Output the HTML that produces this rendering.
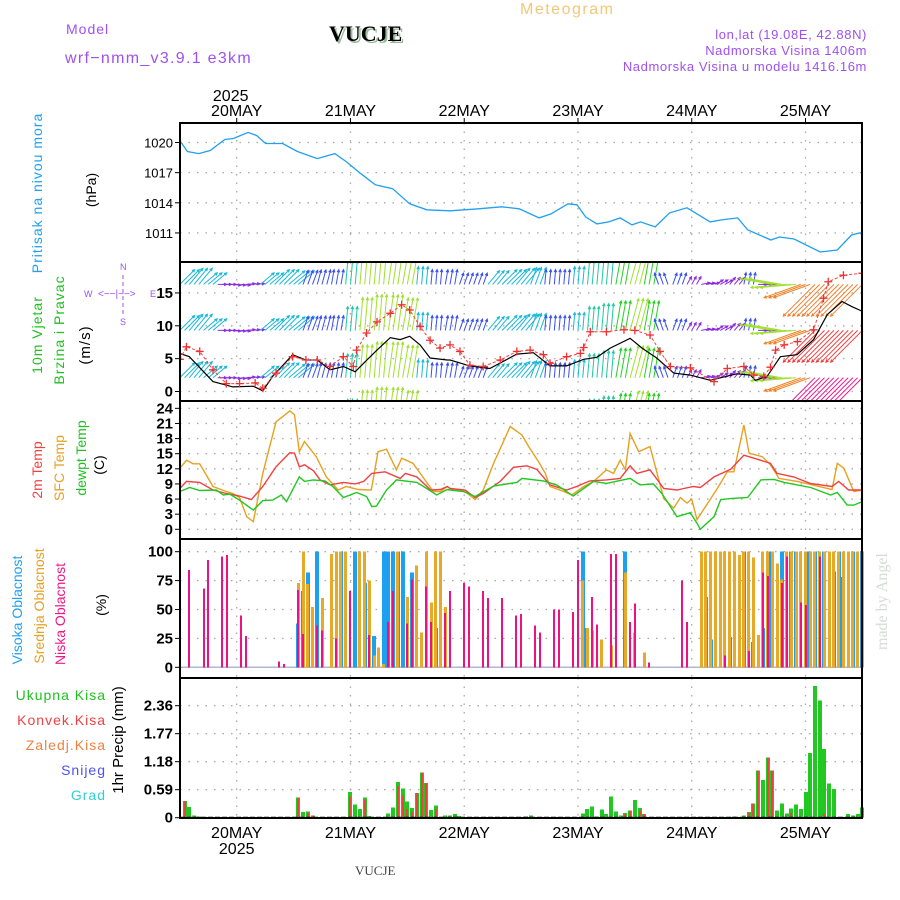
<!DOCTYPE html>
<html><head><meta charset="utf-8"><style>
html,body{margin:0;padding:0;background:#fff;}
svg{display:block;font-family:"Liberation Sans",sans-serif;}
</style></head><body>
<svg id="chart" width="900" height="900" viewBox="0 0 900 900">
<text x="520" y="14" font-size="16" fill="#f0c878" letter-spacing="1.5">Meteogram</text>
<text x="66" y="34" font-size="14" fill="#a050f0" letter-spacing="1">Model</text>
<text x="331" y="43" font-size="22" font-weight="bold" font-family="Liberation Serif,serif" fill="#9ab89a">VUCJE</text>
<text x="329" y="41" font-size="22" font-weight="bold" font-family="Liberation Serif,serif" fill="#000">VUCJE</text>
<text x="65" y="63" font-size="16" fill="#a050f0" letter-spacing="1.3">wrf−nmm_v3.9.1  e3km</text>
<text x="867" y="39" font-size="13" fill="#a050f0" text-anchor="end" letter-spacing="0.6">lon,lat (19.08E, 42.88N)</text>
<text x="867" y="55" font-size="13" fill="#a050f0" text-anchor="end" letter-spacing="0.6">Nadmorska Visina 1406m</text>
<text x="867" y="71" font-size="13" fill="#a050f0" text-anchor="end" letter-spacing="0.6">Nadmorska Visina u modelu 1416.16m</text>
<text x="355" y="875" font-size="13" font-family="Liberation Serif,serif" fill="#444">VUCJE</text>
<text transform="translate(887,650) rotate(-90)" font-size="16" font-family="Liberation Serif,serif" fill="#d4dcd4">made by Angel</text>

<text transform="translate(42,193) rotate(-90)" font-size="14" fill="#20a0f0" text-anchor="middle" letter-spacing="1">Pritisak na nivou mora</text>
<text transform="translate(96,190) rotate(-90)" font-size="14" fill="#000" text-anchor="middle">(hPa)</text>
<text transform="translate(42,335) rotate(-90)" font-size="14" fill="#20c020" text-anchor="middle" letter-spacing="1">10m Vjetar</text>
<text transform="translate(64,330) rotate(-90)" font-size="14" fill="#20c020" text-anchor="middle" letter-spacing="1">Brzina i Pravac</text>
<text transform="translate(90,345) rotate(-90)" font-size="15" fill="#000" text-anchor="middle" letter-spacing="1">(m/s)</text>
<g fill="#a050f0" font-size="9">
<text x="120" y="270">N</text><text x="120" y="325">S</text><text x="84" y="297">W</text><text x="150" y="297">E</text>
<text x="98" y="297" font-size="10">&lt;−−|−−&gt;</text>
<line x1="123" y1="275" x2="123" y2="315" stroke="#a050f0" stroke-dasharray="4,3"/>
</g>
<text transform="translate(42,470) rotate(-90)" font-size="14" fill="#f04040" text-anchor="middle">2m Temp</text>
<text transform="translate(64,468) rotate(-90)" font-size="14" fill="#e8a020" text-anchor="middle">SFC Temp</text>
<text transform="translate(86,458) rotate(-90)" font-size="14" fill="#20c020" text-anchor="middle">dewpt Temp</text>
<text transform="translate(104,465) rotate(-90)" font-size="14" fill="#000" text-anchor="middle">(C)</text>
<text transform="translate(22,610) rotate(-90)" font-size="14" fill="#20a0f0" text-anchor="middle">Visoka Oblacnost</text>
<text transform="translate(44,606) rotate(-90)" font-size="14" fill="#e8a020" text-anchor="middle">Srednja Oblacnost</text>
<text transform="translate(65,614) rotate(-90)" font-size="14" fill="#f01888" text-anchor="middle">Niska Oblacnost</text>
<text transform="translate(106,605) rotate(-90)" font-size="14" fill="#000" text-anchor="middle">(%)</text>
<g font-size="14" text-anchor="end" letter-spacing="1">
<text x="106" y="700" fill="#20c020">Ukupna  Kisa</text>
<text x="106" y="725" fill="#f04040">Konvek.Kisa</text>
<text x="106" y="750" fill="#f08040">Zaledj.Kisa</text>
<text x="106" y="775" fill="#5050f0">Snijeg</text>
<text x="106" y="800" fill="#30d0d0">Grad</text>
</g>
<text transform="translate(123,740) rotate(-90)" font-size="15" fill="#000" text-anchor="middle">1hr Precip (mm)</text>
<defs>
<clipPath id="windclip"><rect x="180" y="262" width="682" height="139"/></clipPath>
<clipPath id="presclip"><rect x="180" y="123" width="682" height="139"/></clipPath>
</defs>
<g id="layer"></g>
</svg>
<script>
// ---- data ----
const dayLabels = ["20MAY","21MAY","22MAY","23MAY","24MAY","25MAY"];
const dayHours = [0,24,48,72,96,120];
const presHours = [-12,-10.4,-8,-5.6,-2.5,-0.7,2.4,4.2,6.1,9.7,12.8,17,20.7,23.1,26.2,29.2,32.9,36.5,40.1,45,51,55.9,59.6,63.8,66.3,69.9,71.8,73.6,76,78.5,80.9,83.4,85.2,88.3,91.3,95,99.9,102.3,105.7,107.8,112.7,114.5,117.6,123.1,126.7,129.7,131.5,132.8];
const presVals = [1020.2,1019.1,1018.9,1019.2,1020.3,1020.4,1021.0,1020.7,1019.9,1019.9,1019.1,1018.4,1018.9,1018.1,1016.9,1015.8,1015.4,1013.9,1013.3,1013.2,1013.4,1013.6,1013.4,1012.5,1012.9,1013.9,1013.8,1012.6,1011.9,1012.1,1012.5,1011.8,1012.1,1011.6,1013.0,1013.5,1012.1,1012.3,1012.5,1011.3,1010.3,1010.6,1010.4,1009.1,1009.3,1010.8,1011.0,1010.4];
const presTicks = [1020,1017,1014,1011];

const t2Hours = [-12,-10.6,-7.8,-5,-2.2,0.6,3.1,5.5,8.3,11.2,12.2,13.2,14.3,16.2,17.6,19.7,22.5,25,26.8,28.5,31.3,34.5,35.6,38,40.9,43,44.4,45,48.2,50.3,52,55.6,58.4,61.2,63.3,66.1,69.6,71.7,74.5,78,80.9,83,84.4,87.2,90.1,92.9,94.3,96.4,97.8,100.7,104.2,107,109.8,112.6,114,117.5,121,125.6,127,129.1,132];
const t2Vals = [8.1,9.5,9.3,7.8,7.1,6.6,5.9,8.5,12.4,15.2,15.1,12.4,12.8,11.6,9.8,8.8,9.3,9.0,9.5,11.1,11.4,10.1,11.1,10.4,7.8,7.9,8.5,8.1,7.8,6.3,7.1,9.5,12.3,12.6,11.9,8.8,7.8,8.5,9.6,9.8,10.1,12.6,11.1,11.8,8.1,7.8,8.1,8.5,8.3,10.4,11.9,14.7,13.9,13.1,11.1,10.4,9.1,8.5,9.5,7.8,7.8];
const sfcHours = [-12,-10.6,-9.2,-7.8,-5,-2.2,-0.8,0.6,2.1,3.5,5.5,8.3,11.2,12.2,13.2,14.3,16.8,18.9,21.4,23.1,25.6,28.4,29.8,31.6,33.7,34.8,37.2,39.7,41.5,43,44.4,45,48.2,50.3,52,54.2,57.7,60.2,61.6,63.7,65.1,66.1,69,70.7,73.2,75.3,78,79.5,80.9,82,83,84.8,87.2,90.1,92.2,93.6,95,96,97.1,101.4,103.5,104.9,107,108.1,110.9,112.6,114.4,118.3,125.6,126.7,128.1,130.2,132];
const sfcVals = [12.1,13.7,13.0,13.0,8.5,7.5,7.1,6.3,2.5,1.5,11.1,21.3,23.5,22.7,15.4,17.4,14.4,10.4,7.8,8.5,7.9,7.8,15.4,15.9,11.8,14.1,13.1,9.8,7.5,7.5,8.5,8.1,7.5,5.9,7.8,13.1,20.4,18.7,16.4,13.4,11.1,8.5,7.5,6.8,8.5,9.5,11.8,11.1,13.7,11.8,19.0,15.4,16.4,6.1,4.2,6.3,5.2,6.0,1.9,8.1,11.4,11.4,20.7,15.1,14.4,12.8,10.1,9.5,7.9,13.1,12.1,7.5,7.8];
const dewHours = [-12,-9.9,-7.8,-4.3,-2.8,-1.5,0.6,3.5,5.5,7.6,9.4,10.5,13.2,14.3,16.1,18.6,20.3,22.5,25.3,27.4,28.5,29.5,31.6,33.7,38,39.4,42.2,44.4,45,47.8,50.3,54.2,59.1,60.2,64.7,67.5,71,75.3,78,83,85.1,87.9,89.7,92.9,95.7,97.1,97.8,100.7,102.1,104.2,107.8,110.6,113.4,115.5,121.1,125.3,126.7,128.8,130.2,132];
const dewVals = [7.5,8.3,7.7,7.8,6.8,7.0,5.8,3.8,5.7,5.8,6.8,5.5,10.4,9.5,9.8,9.6,8.5,6.3,7.3,6.5,4.5,4.6,7.8,9.8,9.3,8.5,6.8,7.9,7.8,7.5,6.5,8.6,9.3,10.1,9.6,8.8,6.6,9.5,9.1,10.1,8.8,9.0,7.1,2.5,3.3,1.2,0,2.5,5.9,6.1,6.3,9.8,9.9,9.3,8.3,6.8,7.3,4.8,4.8,5.5];
const tempTicks = [0,3,6,9,12,15,18,21,24];

const spdHours = [-12,-10,-5,-0.8,3.5,5.5,7.6,11.8,14.6,17,19.7,22.5,25,26.8,29.6,32.4,34.5,36.5,38.7,40.8,44.4,45,49.2,53.4,59.1,62.6,66.1,69.6,73.2,76,78.8,83,85.5,88.6,92.2,95.7,99.9,105.5,108.4,109.4,111.9,114.7,118.2,121.7,124.6,127.7,129.8,132];
const spdVals = [5.8,5.3,1.5,0.7,0.8,0.1,2.3,5.6,4.8,4.8,3.3,3.8,3.0,4.3,6.3,8.2,7.9,8.4,7.1,5.1,4.8,4.8,3.9,3.5,5.7,5.9,3.9,3.9,4.9,5.2,6.6,8.1,6.6,5.1,2.8,2.5,1.7,2.7,2.5,1.7,2.3,5.3,5.6,7.9,11.7,13.7,12.9,12.2];
const gustHours = [-12,-10.6,-7.8,-5,-2.2,0.6,3.9,5.5,8.3,11.8,14.6,17,19.7,22.5,24.6,25.3,27.4,29.6,32.4,34.8,36.5,38.7,40.8,42.9,45,47.1,49.2,52,55.6,59.1,61.9,64.7,66.1,69.6,72.5,73.2,74.6,78,81.7,84,87.2,89.3,91.5,95.7,100.7,103.5,107,109.1,111.2,112.6,113.7,115.5,118.3,121.7,123.8,124.8,128,132];
const gustVals = [4.9,6.8,6.1,3.3,1.2,1.2,1.3,0.5,2.8,5.3,4.8,4.8,3.8,5.3,3.8,6.3,8.9,10.6,11.9,13.2,12.4,9.9,7.8,6.6,7.1,6.1,4.0,3.8,4.8,6.1,6.3,5.6,4.3,5.3,5.8,6.7,9.1,9.1,9.4,9.3,8.6,6.1,3.8,3.6,1.5,3.5,3.8,2.5,2.3,3.7,6.3,7.1,7.6,9.4,14.2,16.7,17.7,18.0];
const windTicks = [0,5,10,15];
const arrowHours = [-12,-9,-6,-3,0,3,6,9,12,15,18,21,24,27,30,33,36,39,42,45,48,51,54,57,60,63,66,69,72,75,78,81,84,87,90,93,96,99,102,105,108,111,114,117,120,123,126,129,132];
const arrowSpeed = [7,7,6,3,3,3,6,7,7,5,5,5,8,11,12,12,11,6,5,5,4,4,6,7,7,6,5,5,6,8,9,10,11,10,4,4,3,3,3,3,4,3,11,12,13,15,15,15,15];
const arrowDir = [45,40,50,90,95,85,50,45,50,20,15,10,5,5,5,8,10,5,5,10,20,20,40,45,40,20,5,5,5,5,5,10,15,10,340,20,30,80,60,40,10,90,280,265,250,225,225,225,225];
const arrowRows = [16.3,9.3,2.1,-4.8];

const cloudTicks = [0,25,50,75,100];
const lowHours = [-10,-7,-6,-3,-2,1,2,9,10,13,14,17,18,21,24,28,32,33,36,37,40,41,44,45,48,49,52,53,56,59,60,63,64,67,68,71,72,75,76,79,80,83,84,87,94,95,103,108,111,112,115,116,119,120,123];
const lowVals = [84,68,93,96,97,45,27,5,3,67,29,36,32,25,66,28,39,66,38,76,70,39,47,66,73,70,66,60,60,45,46,36,30,50,50,48,93,61,37,98,98,39,55,4,75,39,10,14,82,79,73,96,56,54,96];
const midHours = [13,14,15,16,18,20,21,22,23,26,27,28,29,30,31,34,36,38,39,40,41,42,43,44,73,74,75,77,79,82,84,86,98,99,100,101,102,103,104,105,106,107,108,109,110,111,112,113,114,115,116,117,118,119,120,121,122,123,124,125,126,127,128,129,130,131,132];
const midVals = [73,100,72,52,60,98,100,100,100,100,100,75,10,17,3,100,61,88,30,100,56,100,100,52,75,34,32,24,19,82,30,13,100,100,100,100,100,100,100,100,97,100,100,95,28,100,100,100,90,76,100,100,100,100,100,100,100,100,100,100,100,100,100,100,100,100,100];
const highHours = [13,14,15,17,22,25,27,29,31,32,33,34,35,37,42,73,74,82,99,100,104,107,109,111,112,113,115,117,118,120,121,122,124,126,127,128,130,132];
const highVals = [38,66,82,100,100,100,73,27,100,100,100,100,100,82,34,100,34,100,61,24,26,100,22,34,100,100,100,100,100,100,100,100,100,83,100,78,100,100];

const precipTicks = [0,0.59,1.18,1.77,2.36];
const totHours = [-11,-10,-9,-8,-5,13,14,15,16,24,25,26,27,28,32,33,34,35,36,37,38,39,40,41,42,44,45,46,47,61,62,73,74,75,76,77,78,79,80,81,82,83,84,85,86,102,105,107,108,109,110,111,112,113,114,115,116,117,118,119,120,121,122,123,124,125,126,129,130,131,132];
const totVals = [0.35,0.23,0.05,0.03,0.02,0.43,0.12,0.13,0.05,0.54,0.28,0.18,0.43,0.04,0.09,0.22,0.75,0.61,0.34,0.2,0.52,0.95,0.73,0.16,0.26,0.05,0.05,0.08,0.04,0.03,0.05,0.09,0.18,0.24,0.03,0.17,0.08,0.45,0.13,0.05,0.1,0.15,0.37,0.2,0.08,0.02,0.03,0.05,0.12,0.3,0.99,0.79,1.27,0.99,0.15,0.3,0.09,0.19,0.28,0.18,0.54,1.36,2.77,2.47,1.45,0.72,0.6,0.08,0.05,0.08,0.22];
const convHours = [-11,-9,13,15,16,24,27,34,35,36,37,38,39,40,42,82,83,85,86,108,109,110,112,113,117,121,124];
const convVals = [0.35,0.03,0.43,0.1,0.05,0.45,0.38,0.67,0.47,0.18,0.12,0.52,0.95,0.73,0.18,0.08,0.15,0.15,0.08,0.1,0.3,0.99,1.27,0.99,0.1,0.02,0.08];

// ---- axes ----
const X0=180, X1=862;
const xH = h => 236.7 + h*4.74;
const yPres = v => 142.5 - (v-1020)*10.05;
const yWind = v => 391.5 - v*6.57;
const yTemp = v => 529.3 - v*5.04;
const yCloud = v => 667.3 - v*1.156;
const yPrec = v => 817.7 - v*47.46;
const panels = [[123,262],[262,401],[401,539],[539,678],[678,818]];
const NS="http://www.w3.org/2000/svg";
const layer=document.getElementById('layer');
function mk(tag, attrs, parent){const e=document.createElementNS(NS,tag);for(const k in attrs)e.setAttribute(k,attrs[k]);(parent||layer).appendChild(e);return e;}
function pathOf(hs, vs, yf){return hs.map((h,i)=>(i?'L':'M')+xH(h).toFixed(1)+','+yf(vs[i]).toFixed(1)).join('');}

// grid
const grid=mk('g',{stroke:'#aaa','stroke-width':1.3,'stroke-dasharray':'1.5,7'});


panels.forEach(p=>dayHours.forEach(h=>mk('line',{x1:xH(h),x2:xH(h),y1:p[0],y2:p[1]},grid)));
function hgrid(ticks,yf,name,fmt,bold,fs){
  const g=mk('g',{});
  
  
  ticks.forEach(t=>{
    mk('line',{x1:X0,x2:X1,y1:yf(t),y2:yf(t),stroke:'#aaa','stroke-width':1.3,'stroke-dasharray':'1.5,7'},g);
    mk('line',{x1:X0-5,x2:X0,y1:yf(t),y2:yf(t),stroke:'#000'},g);
    const tx=mk('text',{x:X0-7,y:yf(t)+5,'text-anchor':'end','font-size':fs,'font-weight':bold?'bold':'normal',fill:'#000'},g);
    tx.textContent=fmt(t);
  });
}
hgrid(presTicks,yPres,'pressure-y-axis',t=>t,false,13);
hgrid(windTicks,yWind,'wind-y-axis',t=>t,true,15);
hgrid(tempTicks,yTemp,'temp-y-axis',t=>t,true,15);
hgrid(cloudTicks,yCloud,'cloud-y-axis',t=>t,true,15);
hgrid(precipTicks,yPrec,'precip-y-axis',t=>t===0?'0':t.toFixed(2),true,15);

// day labels
dayHours.forEach((h,i)=>{
  const t=mk('text',{x:xH(h),y:116,'text-anchor':'middle','font-size':16,fill:'#000'});
  t.textContent=dayLabels[i];
  
  
  mk('line',{x1:xH(h),x2:xH(h),y1:118,y2:123,stroke:'#000'});
  const b=mk('text',{x:xH(h),y:838,'text-anchor':'middle','font-size':16,fill:'#000'});
  b.textContent=dayLabels[i];
  
  
});
const y1=mk('text',{x:xH(0)-6,y:101,'text-anchor':'middle','font-size':16,fill:'#000'});y1.textContent='2025';


const y2=mk('text',{x:xH(0),y:854,'text-anchor':'middle','font-size':16,fill:'#000'});y2.textContent='2025';



// pressure
const pl=mk('path',{d:pathOf(presHours,presVals,yPres),fill:'none',stroke:'#20a0f0','stroke-width':1.3,'clip-path':'url(#presclip)'});



// wind arrows
const wg=mk('g',{'clip-path':'url(#windclip)'});


function spdColor(s,row){
  if(s<3.5) return '#8a2be2';
  if(s<5.5) return '#3a50f0';
  if(s<7.5) return '#18b8d8';
  if(s<9.5) return '#20c8a0';
  if(s<10.5) return '#20d020';
  if(s<12.5) return '#a0e030';
  if(s<14) return '#f08020';
  return row===2?'#f01890':(row===0?'#f08030':'#f04040');
}
arrowRows.forEach((base,ri)=>{
  arrowHours.forEach((h,i)=>{
    for(let k=-1;k<=1;k++){
      const hh=h+k; if(hh<-12||hh>132) continue;
      const s=arrowSpeed[i], d=arrowDir[i]*Math.PI/180, L=s*3;
      const x0=xH(hh), y0=yWind(base);
      const x1=x0+L*Math.sin(d), yy1=y0-L*Math.cos(d);
      const c=spdColor(s,ri);
      const a=mk('path',{d:`M${x0.toFixed(1)},${y0.toFixed(1)}L${x1.toFixed(1)},${yy1.toFixed(1)}`
        +`M${(x1-3*Math.sin(d-0.45)).toFixed(1)},${(yy1+3*Math.cos(d-0.45)).toFixed(1)}L${x1.toFixed(1)},${yy1.toFixed(1)}L${(x1-3*Math.sin(d+0.45)).toFixed(1)},${(yy1+3*Math.cos(d+0.45)).toFixed(1)}`,
        stroke:c,'stroke-width':1,fill:'none'},wg);
      
      
    }
  });
});
const sl=mk('path',{d:pathOf(spdHours,spdVals,yWind),fill:'none',stroke:'#000','stroke-width':1.2,'clip-path':'url(#windclip)'});


const gl=mk('path',{d:pathOf(gustHours,gustVals,yWind),fill:'none',stroke:'#f04040','stroke-width':1,'stroke-dasharray':'3,2','clip-path':'url(#windclip)'});


gustHours.forEach((h,i)=>{
  const x=xH(h), y=yWind(gustVals[i]);
  const m=mk('path',{d:`M${x-4},${y}h8M${x},${y-4}v8`,stroke:'#f03030','stroke-width':1.3,'clip-path':'url(#windclip)'});
  
  
});

// temps
[[sfcHours,sfcVals,'#e8a020','sfc-temp-line'],[t2Hours,t2Vals,'#f04040','2m-temp-line'],[dewHours,dewVals,'#20c820','dewpoint-line']].forEach(s=>{
  const p=mk('path',{d:pathOf(s[0],s[1],yTemp),fill:'none',stroke:s[2],'stroke-width':1.4});
  
  
});

// clouds
const cb=mk('line',{x1:X0,x2:X1,y1:yCloud(0),y2:yCloud(0),stroke:'#b0b8d0','stroke-width':1.5});


function bars(hs,vs,yf,w,color,name){
  hs.forEach((h,i)=>{
    const y=yf(vs[i]), y0=yf(0);
    const r=mk('rect',{x:Math.round(xH(h)-w/2),y:y.toFixed(1),width:w,height:Math.max(0,y0-y).toFixed(1),fill:color,'shape-rendering':'crispEdges'});
    
    
  });
}
bars(highHours,highVals,yCloud,4,'#1ea0f0','high-cloud-bar');
bars(midHours,midVals,yCloud,3,'#e8a828','mid-cloud-bar');
bars(lowHours,lowVals,yCloud,2,'#f01080','low-cloud-bar');

// precip
bars(totHours,totVals,yPrec,4,'#22c822','total-precip-bar');
bars(convHours,convVals,yPrec,2,'#f04040','convective-precip-bar');
const pb=mk('line',{x1:X0,x2:X1,y1:yPrec(0),y2:yPrec(0),stroke:'#000','stroke-width':2,'stroke-dasharray':'5,2'});



// frames
panels.forEach(p=>{
  const r=mk('rect',{x:X0,y:p[0],width:X1-X0,height:p[1]-p[0],fill:'none',stroke:'#000','stroke-width':2});
  
  
});
</script>
</body></html>
